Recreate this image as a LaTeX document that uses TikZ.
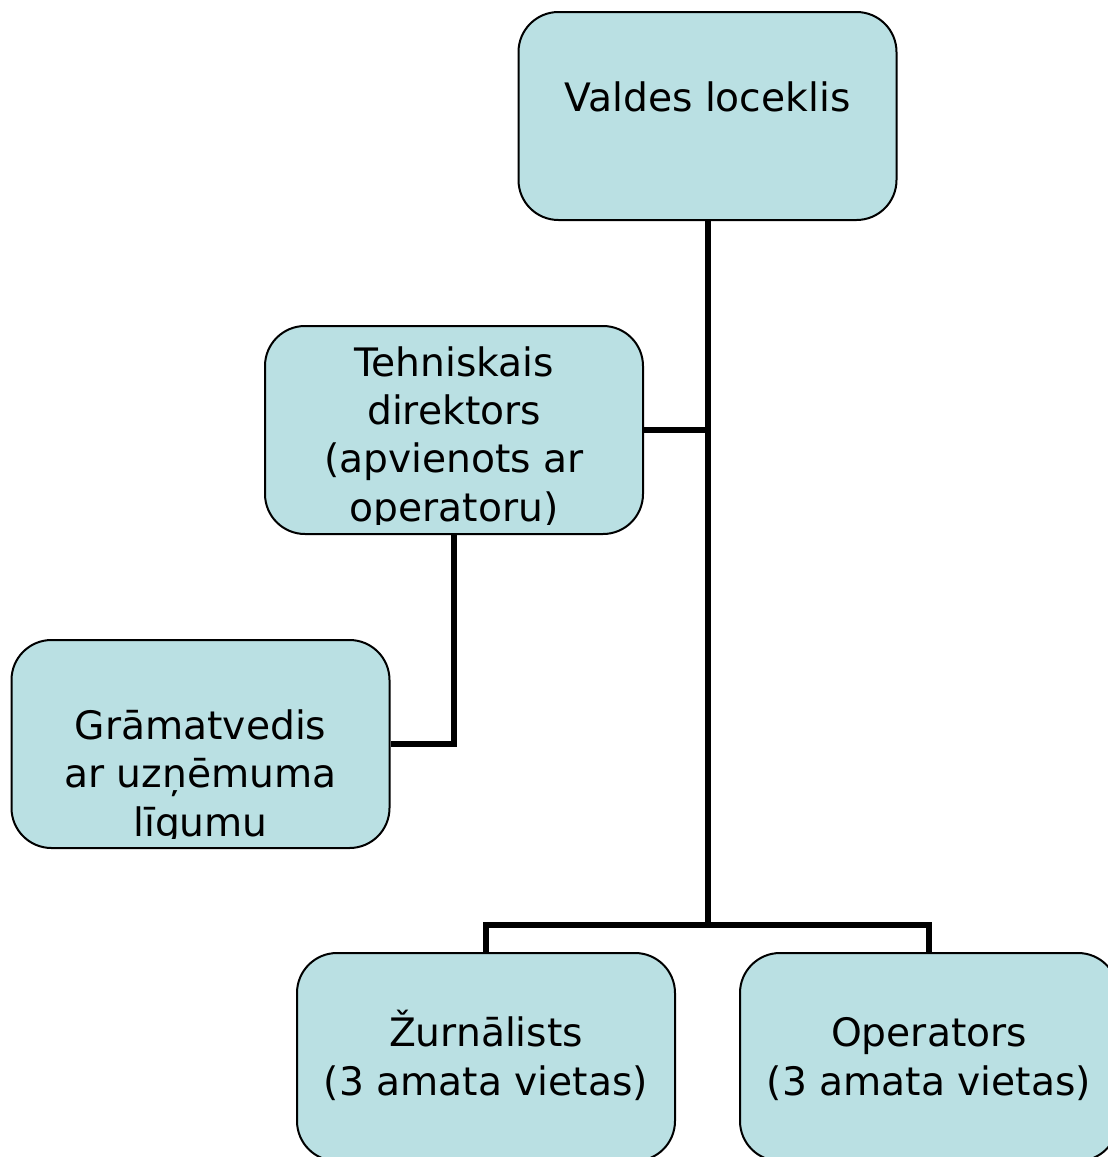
\documentclass[tikz,border=0pt]{standalone}
\usepackage{fontspec}
\setmainfont{DejaVu Sans}
\definecolor{boxfill}{RGB}{186,224,227}
\tikzset{
  orgbox/.style={draw=black, line width=2pt, fill=boxfill, rounded corners=40pt,
    minimum width=378pt, minimum height=208pt, inner sep=0pt},
  orgtxt/.style={align=center, inner sep=0pt, font=\fontsize{39.2}{48.3}\selectfont},
  conn/.style={draw=black, line width=6pt, line join=miter},
  innerclip/.style={insert path={([yshift=10pt]path picture bounding box.south west) rectangle (path picture bounding box.north east)}}
}
\begin{document}
\begin{tikzpicture}[x=1pt,y=-1pt]
\useasboundingbox (0,0) rectangle (1108,1157);
\clip (0,0) rectangle (1108,1157);
\fill[white] (0,0) rectangle (1108,1157);
% boxes
\node[orgbox, path picture={\clip[innerclip]; \node[orgtxt] (vt) at ([yshift=19pt]path picture bounding box.center) {Valdes loceklis};}] (v) at (707.5,116) {};
\node[orgbox, path picture={\clip[innerclip]; \node[orgtxt] (tt) at ([yshift=-8pt]path picture bounding box.center) {Tehniskais\\direktors\\(apvienots ar\\operatoru)};}] (t) at (454,430) {};
\node[orgbox, path picture={\clip[innerclip]; \node[orgtxt] (gt) at ([yshift=-33pt]path picture bounding box.center) {Grāmatvedis\\ar uzņēmuma\\līgumu};}] (g) at (200.5,744) {};
\node[orgbox, path picture={\clip[innerclip]; \node[orgtxt] (zt) at ([yshift=1.5pt]path picture bounding box.center) {Žurnālists\\(3 amata vietas)};}] (z) at (486,1057) {};
\node[orgbox, path picture={\clip[innerclip]; \node[orgtxt] (ot) at ([yshift=-2pt]path picture bounding box.center) {Operators\\(3 amata vietas)};}] (o) at (929,1057) {};
% connectors
\coordinate (j) at (707.5,925);
\draw[conn] (v.south) -- (j);
\draw[conn] (t.east) -- (t.east -| v.south);
\draw[conn] (t.south) |- (g.east);
\draw[conn] (z.north) |- (j) -| (o.north);
\end{tikzpicture}
\end{document}
